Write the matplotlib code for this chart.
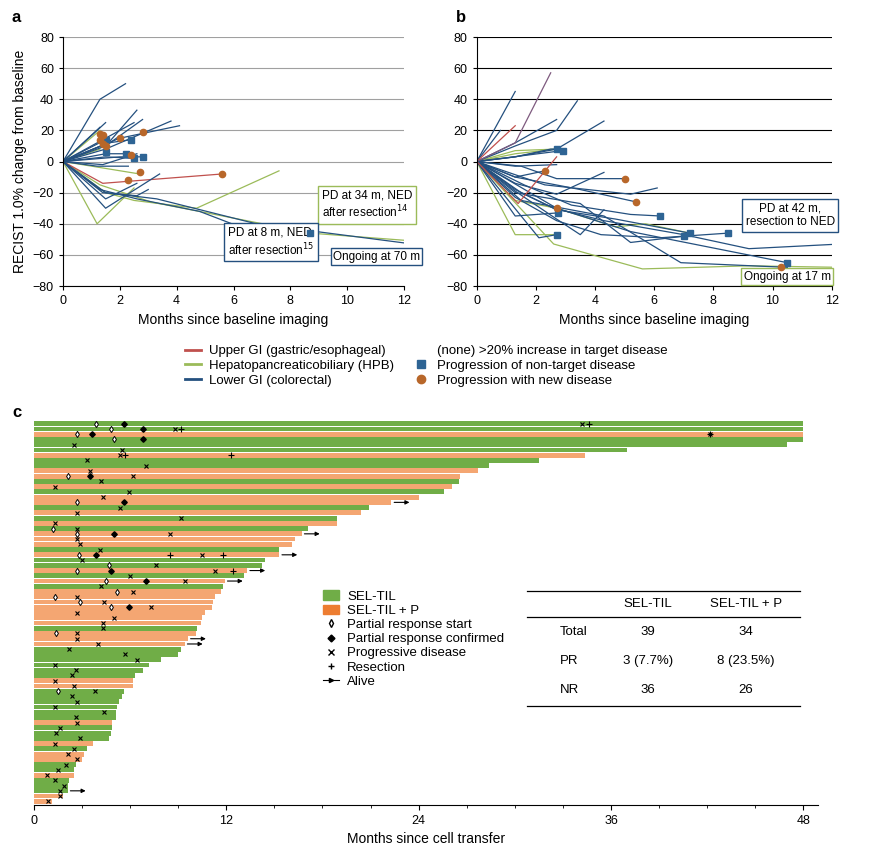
import matplotlib
matplotlib.use("Agg")
import matplotlib.pyplot as plt
from matplotlib.lines import Line2D
from matplotlib.patches import Patch

plt.rcParams['font.family'] = ['Liberation Sans', 'DejaVu Sans']

BLUE = '#24507f'
LGREEN = '#9bbb59'
RED = '#c0504d'
PURPLE = '#7e5a7f'
BROWN = '#b8672a'
SQ = '#2e6494'
GREEN = '#70ad47'
ORANGE = '#f4a672'
ORANGE_LEG = '#ed7d31'

# ---- panel a data (months, % change) ----
a_blue = [
    [(0, 0), (1.3, 40), (2.2, 50)],
    [(0, 0), (1.5, 25)],
    [(0, 0), (1.3, 22)],
    [(0, 0), (1.6, 12), (2.6, 33)],
    [(0, 0), (2.5, 25)],
    [(0, 0), (1.5, 10), (2.8, 27)],
    [(0, 0), (1.5, 8), (3.8, 26)],
    [(0, 0), (2.0, 15), (4.1, 23)],
    [(0, 0), (1.5, 14)],
    [(0, 0), (1.6, 12), (2.4, 14)],
    [(0, 0), (1.5, 5), (2.2, 5)],
    [(0, 0), (1.5, 3), (2.5, 2)],
    [(0, 0), (2.0, 3), (2.8, 3)],
    [(0, 0), (1.4, -2), (2.6, 5)],
    [(0, 0), (1.2, -3), (2.3, -3)],
    [(0, 0), (1.5, -24), (2.6, -14)],
    [(0, 0), (1.5, -30), (3.4, -8)],
    [(0, 0), (1.4, -20), (2.6, -22), (3.0, -18)],
    [(0, 0), (1.3, -18), (2.6, -24), (4.8, -32), (6.8, -46), (8.7, -46)],
    [(0, 0), (1.5, -20), (3.3, -24), (6.8, -40), (12.3, -53)],
]
a_green = [
    [(0, 0), (1.2, -40), (2.5, -17)],
    [(0, 0), (1.5, -20), (2.5, -25), (4.7, -30), (7.6, -6)],
    [(0, 0), (1.3, -15), (3.1, -26), (8.7, -46), (12.3, -51)],
    [(0, 0), (2.7, -8)],
    [(0, 0), (1.3, 20)],
    [(0, 0), (1.3, 8)],
]
a_red = [
    [(0, 0), (1.4, -14), (5.6, -8)],
]
a_circles = [(1.3, 18), (1.4, 17), (1.3, 14), (1.4, 11), (1.5, 10), (2.0, 15),
             (2.8, 19), (2.4, 4), (2.3, -12), (2.7, -7), (5.6, -8)]
a_squares = [(1.5, 14), (2.4, 14), (2.2, 5), (2.5, 2), (2.8, 3), (8.7, -46), (1.5, 6)]

# ---- panel b data ----
b_blue = [
    [(0, 0), (1.3, 45)],
    [(0, 0), (0.8, 20)],
    [(0, 0), (1.3, 12), (2.7, 27)],
    [(0, 0), (1.3, 10), (2.7, 20), (3.4, 39)],
    [(0, 0), (1.3, 3), (2.7, 8), (4.3, 26)],
    [(0, 0), (1.3, 3), (2.5, 8), (2.7, 8)],
    [(0, 0), (2.9, 7)],
    [(0, 0), (1.3, -3), (2.7, -2)],
    [(0, 0), (1.3, -10), (2.3, -6)],
    [(0, 0), (1.5, -3), (2.7, -11), (5.0, -11)],
    [(0, 0), (1.3, -14), (2.7, -21), (4.3, -7)],
    [(0, 0), (1.6, -15), (3.2, -28), (5.2, -34), (6.2, -35)],
    [(0, 0), (1.3, -18), (2.7, -31), (4.7, -37), (7.2, -46)],
    [(0, 0), (1.3, -35), (2.75, -33)],
    [(0, 0), (1.3, -23), (2.7, -38), (4.2, -47), (6.2, -49), (8.5, -46)],
    [(0, 0), (2.1, -49), (2.7, -47)],
    [(0, 0), (1.3, -20), (3.5, -27), (5.2, -52), (7.0, -48)],
    [(0, 0), (1.3, -10), (3.5, -18), (5.4, -26)],
    [(0, 0), (1.5, -20), (2.6, -30), (4.3, -38), (7.0, -47), (9.2, -56), (12.3, -53)],
    [(0, 0), (1.5, -25), (4.3, -35), (6.9, -65), (10.5, -68)],
    [(0, 0), (2.7, -30), (5.2, -45), (10.5, -65)],
    [(0, 0), (1.3, -19), (2.7, -37), (3.5, -47), (4.3, -31)],
    [(0, 0), (2.3, -15), (5.2, -21), (6.1, -17)],
]
b_green = [
    [(0, 0), (1.3, 5), (2.7, 8)],
    [(0, 0), (1.3, 7), (2.7, 8)],
    [(0, 0), (1.3, -47), (2.7, -47)],
    [(0, 0), (1.3, -25), (2.7, -30), (4.7, -42), (5.7, -40), (7.2, -46)],
    [(0, 0), (2.6, -53), (5.6, -69), (9.2, -67), (12.3, -68)],
]
b_red = [
    [(0, 0), (1.3, 23)],
    [(0, 0), (1.4, -27), (2.7, 3)],
]
b_purple = [
    [(0, 0), (1.3, 12), (2.5, 57)],
]
b_circles = [(2.3, -6), (2.7, -30), (5.0, -11), (5.4, -26), (10.3, -68)]
b_squares = [(2.7, 8), (2.9, 7), (2.75, -33), (2.7, -47), (6.2, -35), (7.0, -48),
             (7.2, -46), (8.5, -46), (10.5, -65)]

# ---- panel c data (top to bottom) ----
bar_group = list("GGOGGGOGGOOGOGOOGOGOGOOOGOGGOGOGOOOOOOOGOOOGGGGGGOOGGGGGGOGGGOGOOGGOGGGOO")
bar_months = [48, 48, 48, 48, 47.0, 37.0, 34.4, 31.5, 28.4, 27.7, 26.6, 26.5, 26.1, 25.6, 24.0,
              22.3, 20.9, 20.4, 18.9, 18.9, 17.1, 16.7, 16.3, 16.1, 15.3, 15.3, 14.4, 14.2, 13.3,
              13.1, 11.9, 11.8, 11.7, 11.3, 11.2, 11.1, 10.7, 10.5, 10.4, 10.2, 10.1, 9.6, 9.4,
              9.2, 9.0, 7.9, 7.2, 6.8, 6.3, 6.2, 6.2, 5.6, 5.5, 5.3, 5.2, 5.1, 5.1, 4.9, 4.9, 4.8,
              4.7, 3.7, 3.3, 3.1, 3.0, 2.6, 2.5, 2.5, 2.2, 2.1, 2.1, 1.8, 1.1]
pr_start = [(1, 3.9), (2, 4.8), (3, 2.7), (4, 5.0), (11, 2.1), (16, 2.7), (21, 1.2), (22, 2.7),
            (26, 2.8), (28, 4.7), (29, 2.7), (31, 4.5), (33, 5.2), (34, 1.3), (35, 2.9),
            (36, 4.8), (41, 1.4), (52, 1.5)]
pr_conf = [(1, 5.6), (2, 6.8), (3, 3.6), (4, 6.8), (11, 3.5), (16, 5.6), (22, 5.0), (26, 3.9),
           (29, 4.8), (31, 7.0), (36, 5.9)]
prog = [(1, 34.2), (2, 8.8), (3, 42.2), (5, 2.5), (6, 5.5), (7, 5.4), (8, 3.3), (9, 7.0),
        (10, 3.5), (11, 6.2), (12, 4.2), (13, 1.3), (14, 5.9), (15, 4.3), (17, 5.4), (18, 2.7),
        (19, 9.2), (20, 1.3), (21, 2.7), (22, 8.5), (23, 2.7), (24, 2.9), (25, 4.1), (26, 10.5),
        (27, 3.0), (28, 7.6), (29, 11.3), (30, 6.0), (31, 9.4), (32, 4.2), (33, 6.2), (34, 2.7),
        (35, 4.4), (36, 7.3), (37, 2.7), (38, 5.0), (39, 4.3), (40, 4.3), (41, 2.7), (42, 2.7),
        (43, 4.0), (44, 2.2), (45, 5.7), (46, 6.4), (47, 1.3), (48, 2.6), (49, 2.4), (50, 1.3),
        (51, 2.5), (52, 3.8), (53, 2.4), (54, 2.7), (55, 1.3), (56, 4.4), (57, 2.6), (58, 2.7),
        (59, 1.6), (60, 1.4), (61, 2.9), (62, 1.3), (63, 2.5), (64, 2.1), (65, 2.7), (66, 2.0),
        (67, 1.5), (68, 0.8), (69, 1.3), (70, 1.9), (71, 1.6), (72, 1.6), (73, 0.9)]
resect = [(1, 34.6), (2, 9.2), (3, 42.2), (7, 5.7), (7, 12.3), (26, 8.5), (26, 11.8), (29, 12.4)]
alive_rows = [1, 2, 3, 4, 16, 22, 26, 29, 31, 42, 43, 71]

table_rows = [["Total", "39", "34"], ["PR", "3 (7.7%)", "8 (23.5%)"], ["NR", "36", "26"]]

fig = plt.figure(figsize=(8.7, 8.47), dpi=100)


def spider(ax, groups, circles, squares, gridcol):
    for lines, col in groups:
        for ln in lines:
            ax.plot([p[0] for p in ln], [p[1] for p in ln], color=col, lw=0.9)
    ax.plot([p[0] for p in squares], [p[1] for p in squares], 's', color=SQ, ms=4.5, zorder=5)
    ax.plot([p[0] for p in circles], [p[1] for p in circles], 'o', color=BROWN, ms=4.5, zorder=5)
    ax.set_xlim(0, 12)
    ax.set_ylim(-80, 80)
    ax.set_yticks(range(-80, 81, 20))
    ax.set_xticks(range(0, 13, 2))
    ax.grid(axis='y', color=gridcol, lw=0.8)
    ax.set_axisbelow(True)
    for s in ['top', 'right']:
        ax.spines[s].set_visible(False)
    ax.tick_params(labelsize=9, length=3)
    ax.set_xlabel("Months since baseline imaging", fontsize=10)


ax_a = fig.add_axes([0.0724, 0.6623, 0.392, 0.294])
spider(ax_a, [(a_green, LGREEN), (a_red, RED), (a_blue, BLUE)], a_circles, a_squares, '#a0a0a0')
ax_a.set_ylabel("RECIST 1.0% change from baseline", fontsize=10)
ax_a.text(9.1, -36, "PD at 34 m, NED\nafter resection$^{14}$", fontsize=8.5,
          bbox=dict(boxstyle='square,pad=0.3', fc='white', ec=LGREEN))
ax_a.text(5.8, -60, "PD at 8 m, NED\nafter resection$^{15}$", fontsize=8.5,
          bbox=dict(boxstyle='square,pad=0.3', fc='white', ec=BLUE))
ax_a.text(9.5, -63, "Ongoing at 70 m", fontsize=8.5,
          bbox=dict(boxstyle='square,pad=0.2', fc='white', ec=BLUE))

ax_b = fig.add_axes([0.548, 0.6623, 0.408, 0.294])
spider(ax_b, [(b_green, LGREEN), (b_blue, BLUE), (b_red, RED), (b_purple, PURPLE)],
       b_circles, b_squares, 'black')
ax_b.annotate("", xy=(12.4, -53), xytext=(12.0, -53.3),
              arrowprops=dict(arrowstyle='-|>', color=BLUE, lw=0.8, mutation_scale=6))
ax_b.annotate("", xy=(12.4, -68), xytext=(12.0, -68),
              arrowprops=dict(arrowstyle='-|>', color=LGREEN, lw=0.8, mutation_scale=6))
ax_b.text(10.6, -41, "PD at 42 m,\nresection to NED", fontsize=8.5, ha='center',
          bbox=dict(boxstyle='square,pad=0.3', fc='white', ec=BLUE))
ax_b.text(10.5, -76, "Ongoing at 17 m", fontsize=8.5, ha='center',
          bbox=dict(boxstyle='square,pad=0.2', fc='white', ec=LGREEN))

handles = [Line2D([], [], color=RED, lw=2), Line2D([], [], color=LGREEN, lw=2),
           Line2D([], [], color=BLUE, lw=2), Line2D([], [], color='none'),
           Line2D([], [], marker='s', color=SQ, ls='none', ms=6),
           Line2D([], [], marker='o', color=BROWN, ls='none', ms=6)]
labels = ["Upper GI (gastric/esophageal)", "Hepatopancreaticobiliary (HPB)",
          "Lower GI (colorectal)", "(none) >20% increase in target disease",
          "Progression of non-target disease", "Progression with new disease"]
fig.legend(handles, labels, ncol=2, loc='center', bbox_to_anchor=(0.49, 0.568), frameon=False,
           fontsize=9.5, handlelength=1.2, handletextpad=0.6, columnspacing=1.5, labelspacing=0.2)

# ---- panel c ----
ax_c = fig.add_axes([0.039, 0.0496, 0.901, 0.4545])
rows = list(range(1, len(bar_months) + 1))
cols = [GREEN if g == 'G' else ORANGE for g in bar_group]
ax_c.barh(rows, bar_months, height=0.92, color=cols)
ax_c.plot([m for r, m in pr_start], [r for r, m in pr_start], 'd', mfc='white', mec='black',
          ms=3.2, mew=0.7, ls='none')
ax_c.plot([m for r, m in pr_conf], [r for r, m in pr_conf], 'D', color='black', ms=2.8, ls='none')
ax_c.plot([m for r, m in prog], [r for r, m in prog], 'x', color='black', ms=3.3, mew=0.8, ls='none')
ax_c.plot([m for r, m in resect], [r for r, m in resect], '+', color='black', ms=4, mew=0.8, ls='none')
for r in alive_rows:
    m = bar_months[r - 1]
    ax_c.annotate("", xy=(m + 1.3, r), xytext=(m, r),
                  arrowprops=dict(arrowstyle='-|>', color='black', lw=0.8, mutation_scale=6))
ax_c.set_ylim(73.7, 0.3)
ax_c.set_xlim(0, 48.9)
ax_c.set_xticks([0, 12, 24, 36, 48])
ax_c.set_xticks(range(0, 49, 3), minor=True)
ax_c.set_yticks([])
for s in ['top', 'right', 'left']:
    ax_c.spines[s].set_visible(False)
ax_c.tick_params(labelsize=9)
ax_c.set_xlabel("Months since cell transfer", fontsize=10)

leg_h = [Patch(color=GREEN), Patch(color=ORANGE_LEG),
         Line2D([], [], marker='d', mfc='white', mec='black', ls='none', ms=4),
         Line2D([], [], marker='D', color='black', ls='none', ms=3.5),
         Line2D([], [], marker='x', color='black', ls='none', ms=4),
         Line2D([], [], marker='+', color='black', ls='none', ms=5),
         Line2D([], [], color='black', lw=0.8, marker='>', markevery=[1], ms=3)]
leg_l = ["SEL-TIL", "SEL-TIL + P", "Partial response start", "Partial response confirmed",
         "Progressive disease", "Resection", "Alive"]
fig.legend(leg_h, leg_l, loc='upper left', bbox_to_anchor=(0.358, 0.317), frameon=False,
           fontsize=9.5, handlelength=1.2, handletextpad=0.6, labelspacing=0.15)

# summary table
tx = [0.643, 0.745, 0.857]
fig.add_artist(Line2D([0.606, 0.92], [1 - 591 / 847] * 2, color='black', lw=0.9))
fig.add_artist(Line2D([0.606, 0.92], [1 - 617 / 847] * 2, color='black', lw=0.9))
fig.add_artist(Line2D([0.606, 0.92], [1 - 706 / 847] * 2, color='black', lw=0.9))
fig.text(tx[1], 1 - 604 / 847, "SEL-TIL", ha='center', va='center', fontsize=9.5)
fig.text(tx[2], 1 - 604 / 847, "SEL-TIL + P", ha='center', va='center', fontsize=9.5)
for i, row in enumerate(table_rows):
    yy = 1 - (632 + i * 29) / 847
    fig.text(tx[0], yy, row[0], ha='left', va='center', fontsize=9.5)
    fig.text(tx[1], yy, row[1], ha='center', va='center', fontsize=9.5)
    fig.text(tx[2], yy, row[2], ha='center', va='center', fontsize=9.5)

for lab, x, y in [("a", 12, 18), ("b", 456, 18), ("c", 12, 412)]:
    fig.text(x / 870, 1 - y / 847, lab, fontsize=12, fontweight='bold', va='center')

fig.savefig("out.png", dpi=100)
